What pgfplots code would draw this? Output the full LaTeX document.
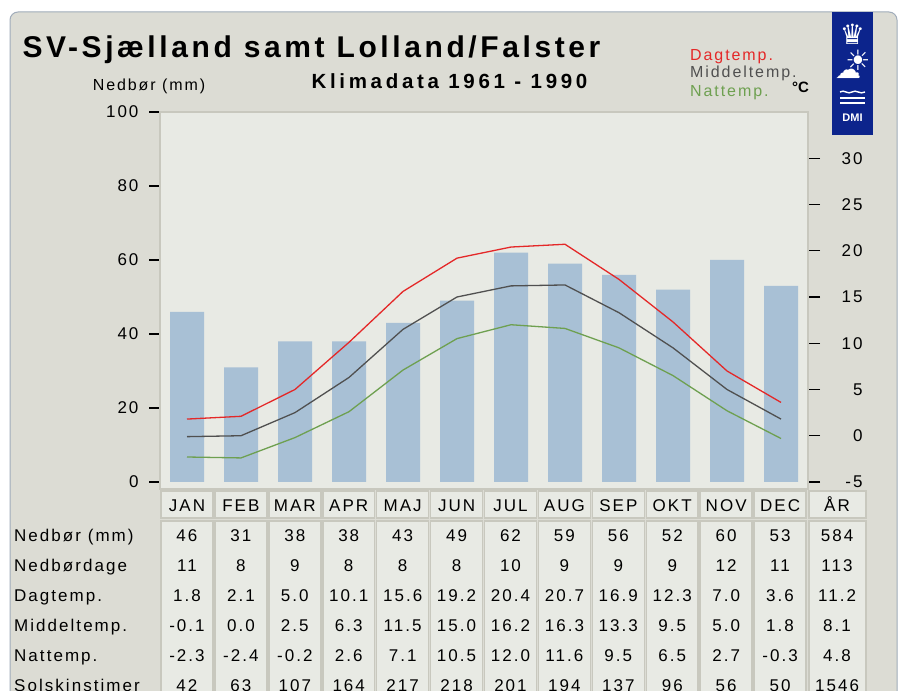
\documentclass[border=0pt]{standalone}
\usepackage{fontspec}
\setmainfont{Liberation Sans}
\newfontfamily\lsp[LetterSpace=12]{Liberation Sans}
\newfontfamily\lspw[LetterSpace=18]{Liberation Sans}
\newfontfamily\dejavu{DejaVu Sans}
\usepackage{pgfplots}
\pgfplotsset{compat=1.18}

\definecolor{panel}{RGB}{220,220,212}
\definecolor{plotbg}{RGB}{232,234,228}
\definecolor{cellline}{RGB}{200,200,190}
\definecolor{barc}{RGB}{168,192,213}
\definecolor{dagc}{RGB}{228,40,40}
\definecolor{midc}{RGB}{80,80,80}
\definecolor{natc}{RGB}{110,160,80}
\definecolor{dmiblue}{RGB}{12,36,140}
\definecolor{rim}{RGB}{160,172,186}

\newcommand\fs[1]{\fontsize{#1}{#1}\selectfont}
% one row of the table: baseline y, then 13 values (12 months + year)
\newcommand\tabrow[2]{%
  \foreach \v [count=\i from 0] in {#2} {%
    \pgfmathsetmacro\xx{\i<12 ? 160+53.92*(\i+0.5) : 837}%
    \node[font=\lsp\fs{17}, anchor=base] at (\xx,-#1) {\v};}}

\begin{document}
\begin{tikzpicture}[x=1pt,y=1pt]
\clip (0,0) rectangle (901,-690);
\fill[white] (0,0) rectangle (901,-690);
\fill[panel, draw=rim, line width=1pt, rounded corners=8pt] (10,-12) rectangle (897,-740);

% precipitation bars, left axis
\begin{axis}[
  at={(160pt,-489pt)}, anchor=south west,
  scale only axis, width=648pt, height=377pt,
  xmin=0.5, xmax=12.5, ymin=-1.9, ymax=100,
  xtick=\empty,
  ytick={0,20,40,60,80,100},
  ytick pos=left,
  tick align=outside,
  major tick length=11pt,
  y tick style={black, line width=1.4pt},
  yticklabel style={font=\lsp\fs{17}, xshift=-7pt},
  /pgf/number format/assume math mode=true,
  axis background/.style={fill=plotbg},
  axis line style={draw=cellline, line width=1.5pt},
]
\addplot[ybar, bar width=34pt, fill=barc, draw=none] coordinates {
  (1,46) (2,31) (3,38) (4,38) (5,43) (6,49)
  (7,62) (8,59) (9,56) (10,52) (11,60) (12,53)
};
\end{axis}

% temperatures, right axis
\begin{axis}[
  at={(160pt,-489pt)}, anchor=south west,
  scale only axis, width=648pt, height=377pt,
  xmin=0.5, xmax=12.5, ymin=-5.76, ymax=35,
  axis x line=none, axis y line*=right,
  axis line style={draw=cellline, line width=1.5pt, -},
  ytick={-5,0,5,10,15,20,25,30},
  tick align=outside,
  major tick length=12pt,
  y tick style={black, line width=1.4pt},
  yticklabel style={font=\lsp\fs{17}, anchor=east, xshift=46pt},
  /pgf/number format/assume math mode=true,
]
\addplot[dagc, line width=1.3pt] coordinates {
  (1,1.8) (2,2.1) (3,5.0) (4,10.1) (5,15.6) (6,19.2)
  (7,20.4) (8,20.7) (9,16.9) (10,12.3) (11,7.0) (12,3.6)
};
\addplot[midc, line width=1.3pt] coordinates {
  (1,-0.1) (2,0.0) (3,2.5) (4,6.3) (5,11.5) (6,15.0)
  (7,16.2) (8,16.3) (9,13.3) (10,9.5) (11,5.0) (12,1.8)
};
\addplot[natc, line width=1.3pt] coordinates {
  (1,-2.3) (2,-2.4) (3,-0.2) (4,2.6) (5,7.1) (6,10.5)
  (7,12.0) (8,11.6) (9,9.5) (10,6.5) (11,2.7) (12,-0.3)
};
\end{axis}

% titles and legend
\node[anchor=base west, font=\lsp\bfseries\fs{30}] at (19,-58) {SV-Sjælland samt Lolland/Falster};
\node[anchor=base west, font=\lspw\bfseries\fs{20.5}] at (308,-89) {Klimadata 1961 - 1990};
\node[anchor=base, font=\lsp\fs{16}] at (149,-91) {Nedbør (mm)};
\node[anchor=base west, font=\lsp\fs{16}, text=dagc, inner sep=0pt] at (690,-61) {Dagtemp.};
\node[anchor=base west, font=\lsp\fs{16}, text=midc, inner sep=0pt] at (690,-78) {Middeltemp.};
\node[anchor=base west, font=\lsp\fs{16}, text=natc, inner sep=0pt] at (690,-97) {Nattemp.};
\node[anchor=base west, font=\bfseries\fs{15}, inner sep=0pt] at (792,-93) {°C};

% DMI logo
\fill[dmiblue] (832,-12) rectangle (873,-135);
\node[text=white, font=\dejavu\fs{28}, inner sep=0pt] at (852.5,-34) {♛};
\node[text=white, font=\dejavu\fs{28}, inner sep=0pt] at (858,-60) {☀};
\node[text=white, font=\dejavu\fs{26}, inner sep=0pt] at (848,-74) {☁};
\draw[white, line width=1.4pt] (840,-92) .. controls (844,-89) and (848,-95) .. (852,-92)
  .. controls (856,-89) and (860,-95) .. (865,-92);
\draw[white, line width=1.4pt] (840,-98) -- (865,-98);
\draw[white, line width=1.4pt] (840,-103) -- (865,-103);
\node[text=white, font=\bfseries\fs{11}] at (852.5,-118) {DMI};

% table cells
\foreach \i in {0,...,11} {
  \pgfmathsetmacro\xa{160+53.92*\i}
  \pgfmathsetmacro\xb{160+53.92*(\i+1)}
  \filldraw[fill=plotbg, draw=cellline, line width=1.5pt] (\xa+1,-491) rectangle (\xb-1,-518);
  \filldraw[fill=plotbg, draw=cellline, line width=1.5pt] (\xa+1,-521) rectangle (\xb-1,-720);
}
\filldraw[fill=plotbg, draw=cellline, line width=1.5pt] (809,-491) rectangle (866,-518);
\filldraw[fill=plotbg, draw=cellline, line width=1.5pt] (809,-521) rectangle (866,-720);

\tabrow{511}{JAN,FEB,MAR,APR,MAJ,JUN,JUL,AUG,SEP,OKT,NOV,DEC,ÅR}
\tabrow{541}{46,31,38,38,43,49,62,59,56,52,60,53,584}
\tabrow{571}{11,8,9,8,8,8,10,9,9,9,12,11,113}
\tabrow{601}{1.8,2.1,5.0,10.1,15.6,19.2,20.4,20.7,16.9,12.3,7.0,3.6,11.2}
\tabrow{631}{-0.1,0.0,2.5,6.3,11.5,15.0,16.2,16.3,13.3,9.5,5.0,1.8,8.1}
\tabrow{661}{-2.3,-2.4,-0.2,2.6,7.1,10.5,12.0,11.6,9.5,6.5,2.7,-0.3,4.8}
\tabrow{691}{42,63,107,164,217,218,201,194,137,96,56,50,1546}

% row labels
\foreach \t/\yy in {Nedbør (mm)/541, Nedbørdage/571, Dagtemp./601, Middeltemp./631, Nattemp./661, Solskinstimer/691}
  \node[anchor=base west, font=\lsp\fs{17}, inner sep=0pt] at (14,-\yy) {\t};
\end{tikzpicture}
\end{document}
